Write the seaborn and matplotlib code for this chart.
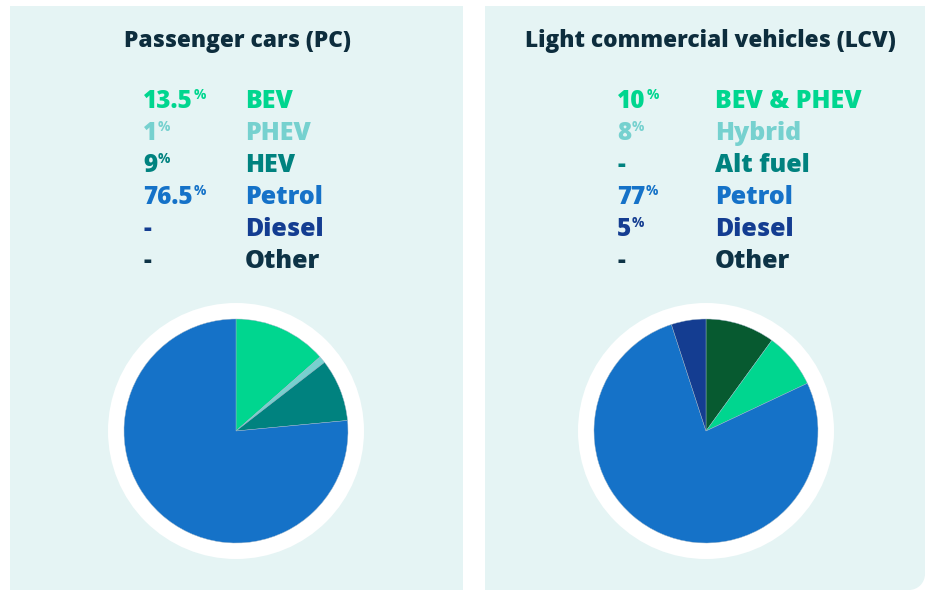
import matplotlib
matplotlib.use("Agg")
import matplotlib.pyplot as plt
from matplotlib.patches import Rectangle, Circle, Wedge
import seaborn as sns

# ---- data ----
pc_title = "Passenger cars (PC)"
pc_labels = ["BEV", "PHEV", "HEV", "Petrol", "Diesel", "Other"]
pc_values = [13.5, 1, 9, 76.5, None, None]
pc_value_text = ["13.5", "1", "9", "76.5", "-", "-"]

lcv_title = "Light commercial vehicles (LCV)"
lcv_labels = ["BEV & PHEV", "Hybrid", "Alt fuel", "Petrol", "Diesel", "Other"]
lcv_values = [10, 8, None, 77, 5, None]
lcv_value_text = ["10", "8", "-", "77", "5", "-"]

# ---- styling ----
sns.set_theme(style="white")
plt.rcParams["font.family"] = ["Open Sans", "DejaVu Sans"]

legend_colors = ["#00d68f", "#76d1cf", "#00827f", "#1572c8", "#143d91", "#0d3346"]
pc_slice_colors = ["#00d68f", "#76d1cf", "#00827f", "#1572c8"]
lcv_slice_colors = ["#075a30", "#00d68f", "#1572c8", "#143d91"]
panel_color = "#e5f4f4"
title_color = "#0d2d3d"

W, H = 927, 590
fig = plt.figure(figsize=(W / 100, H / 100), dpi=100)
fig.patch.set_facecolor("white")


def fx(x):
    return x / W


def fy(y):
    return 1 - y / H


# background panels (pixel coordinates, y pointing down)
bg = fig.add_axes([0, 0, 1, 1])
bg.set_xlim(0, W)
bg.set_ylim(H, 0)
bg.axis("off")
bg.add_patch(Rectangle((10, 6), 453, 590, color=panel_color, lw=0))
r = 16
bg.add_patch(Rectangle((485, 6), 440, 590 - 6 - r, color=panel_color, lw=0))
bg.add_patch(Rectangle((485, 590 - r - 1), 440 - r, r + 1, color=panel_color, lw=0))
bg.add_patch(Wedge((925 - r, 590 - r), r, 0, 90, color=panel_color, lw=0))
bg.add_patch(Rectangle((925 - r, 590 - r - 1), r, 2, color=panel_color, lw=0))


def panel(cx, title, labels, values, value_text, slice_colors, vx, lx, pie_cx):
    fig.text(fx(cx), fy(47), title, ha="center", va="baseline",
             fontsize=16.3, fontweight="heavy", color=title_color)
    baselines = [108, 140, 172, 204, 236, 268]
    for i, (lab, vt) in enumerate(zip(labels, value_text)):
        col = legend_colors[i]
        t = fig.text(fx(vx), fy(baselines[i]), vt, ha="left", va="baseline",
                     fontsize=17.5, fontweight="heavy", color=col)
        if values[i] is not None:
            bg.annotate("%", xy=(1, 1), xycoords=t, xytext=(0.5, 1.0),
                        textcoords="offset points", ha="left", va="top",
                        fontsize=10, fontweight="bold", color=col)
        fig.text(fx(lx), fy(baselines[i]), lab, ha="left", va="baseline",
                 fontsize=18, fontweight="heavy", color=col)

    # pie with a white ring around it
    half = 130
    cy = 431
    ax = fig.add_axes([fx(pie_cx - half), fy(cy + half), 2 * half / W, 2 * half / H])
    ax.set_aspect("equal")
    ax.add_patch(Circle((0, 0), 128 / 112, color="white", lw=0, zorder=0))
    vals = [v for v in values if v is not None]
    ax.pie(vals, colors=slice_colors, startangle=90, counterclock=False,
           radius=1, wedgeprops=dict(linewidth=0.3, edgecolor="#9fb6c8"),
           frame=True)
    ax.set_xlim(-half / 112, half / 112)
    ax.set_ylim(-half / 112, half / 112)
    ax.axis("off")


panel(237, pc_title, pc_labels, pc_values, pc_value_text, pc_slice_colors, 143, 245, 236)
panel(710, lcv_title, lcv_labels, lcv_values, lcv_value_text, lcv_slice_colors, 617, 715, 706)

fig.savefig("out.png", dpi=100, facecolor="white")
